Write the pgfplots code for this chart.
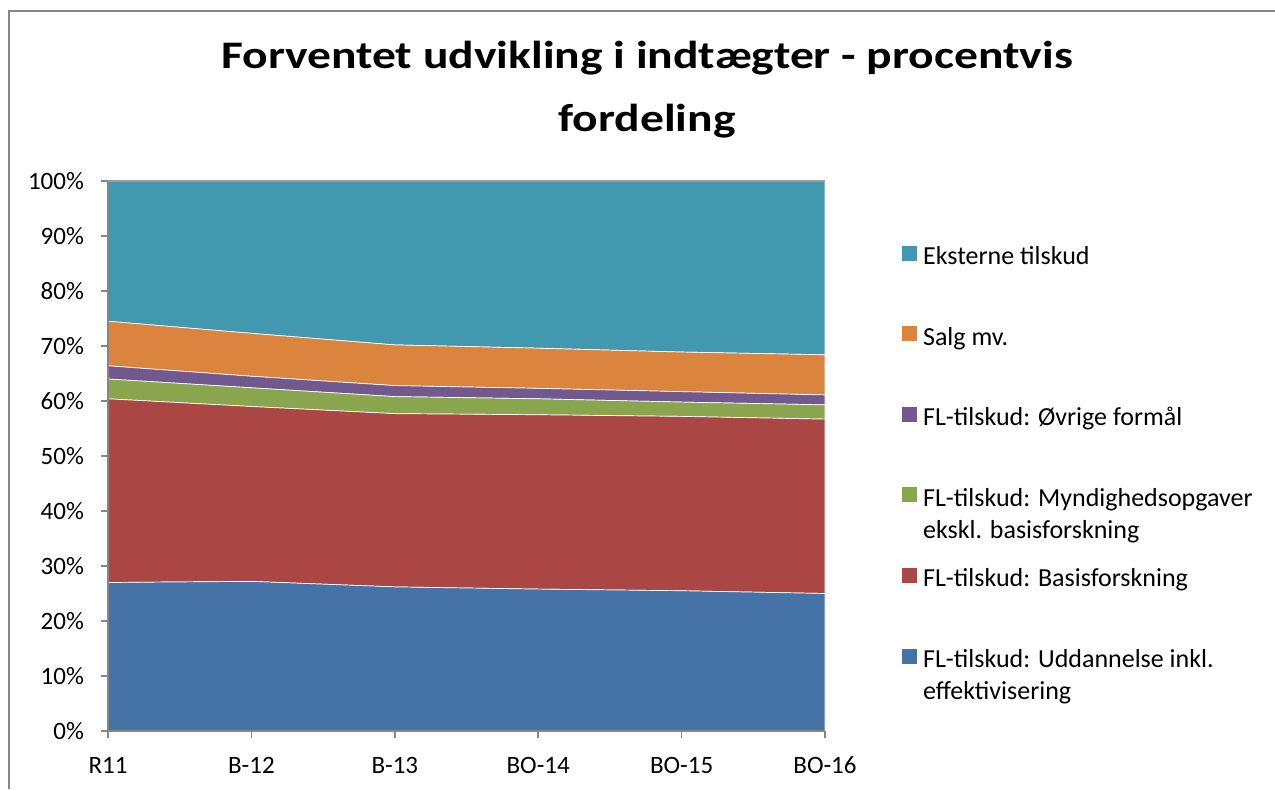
\documentclass[border=0pt]{standalone}
\usepackage{fontspec}
\setmainfont{Carlito}
\newfontfamily\titlefont{Carlito}[FakeStretch=1.22]
\usepackage{pgfplots}
\usepackage{pgfplotstable}
\pgfplotsset{compat=1.18}
\definecolor{cBlue}{HTML}{4572A7}
\definecolor{cRed}{HTML}{AA4643}
\definecolor{cGreen}{HTML}{89A54E}
\definecolor{cPurple}{HTML}{71588F}
\definecolor{cOrange}{HTML}{DB843D}
\definecolor{cTeal}{HTML}{4198AF}
\definecolor{cAxis}{HTML}{868686}
\pgfplotstableread{
x blue red green purple orange teal
0 27.0 33.4 3.6 2.4 8.1 25.5
1 27.2 31.8 3.4 2.1 7.8 27.7
2 26.2 31.5 3.1 2.0 7.4 29.8
3 25.8 31.7 2.9 1.9 7.3 30.4
4 25.5 31.7 2.6 1.9 7.2 31.1
5 25.0 31.7 2.6 1.8 7.3 31.6
}\datatable
\begin{document}
\begin{tikzpicture}
\useasboundingbox (0,0) rectangle (637.5pt,394.5pt);
\draw[line width=1pt, color=cAxis] (4.5pt,0pt) -- (4.5pt,389pt) -- (637.5pt,389pt);
\node[font=\titlefont\fontsize{19.5}{23}\selectfont\bfseries, anchor=base, inner sep=0pt] at (323.5pt,360pt) {Forventet udvikling i indtægter - procentvis};
\node[font=\titlefont\fontsize{19.5}{23}\selectfont\bfseries, anchor=base, inner sep=0pt] at (323.5pt,328.5pt) {fordeling};
\begin{axis}[
  at={(54pt,29pt)}, anchor=south west,
  scale only axis, width=358.5pt, height=275pt,
  xmin=0, xmax=5, ymin=0, ymax=100,
  stack plots=y,
  axis lines*=left,
  axis line style={draw=cAxis, line width=0.75pt},
  ytick={0,10,...,100},
  yticklabel={\pgfmathprintnumber{\tick}\%},
  xtick={0,1,2,3,4,5},
  xticklabels={R11,B-12,B-13,BO-14,BO-15,BO-16},
  tick align=outside,
  major tick length=3.5pt,
  tick style={draw=cAxis, line width=0.75pt},
  ticklabel style={font=\fontsize{12.5}{15}\selectfont},
  yticklabel style={xshift=-5pt},
  xticklabel style={text height=8pt, text depth=2pt, yshift=-6pt},
  /pgf/number format/assume math mode=true,
  extra y ticks={100}, extra y tick labels={},
  extra y tick style={grid=major, major grid style={draw=cAxis!80, line width=0.6pt}},
  axis on top,
  reverse legend,
  legend cell align=left,
  legend style={at={(1.106,0.887)}, anchor=north west, draw=none, fill=none,
    inner sep=0pt, row sep=25.3pt, column sep=2.5pt,
    font=\fontsize{13}{15}\selectfont,
    nodes={inner sep=0pt, text height=10.5pt, text depth=4.5pt}},
  legend image code/.code={\fill[#1] (0pt,-1.2pt) rectangle (8pt,6.8pt);},
]
\addplot[fill=cBlue, draw=white, line width=0.35pt] table[x=x,y=blue]{\datatable} \closedcycle;
\addlegendentry{\smash{\begin{tabular}[t]{@{}l@{}}FL-tilskud: Uddannelse inkl.\\[1pt]effektivisering\end{tabular}}}
\addplot[fill=cRed, draw=white, line width=0.35pt] table[x=x,y=red]{\datatable} \closedcycle;
\addlegendentry{FL-tilskud: Basisforskning}
\addplot[fill=cGreen, draw=white, line width=0.35pt] table[x=x,y=green]{\datatable} \closedcycle;
\addlegendentry{\smash{\begin{tabular}[t]{@{}l@{}}FL-tilskud: Myndighedsopgaver\\[1pt]ekskl. basisforskning\end{tabular}}}
\addplot[fill=cPurple, draw=white, line width=0.35pt] table[x=x,y=purple]{\datatable} \closedcycle;
\addlegendentry{FL-tilskud: Øvrige formål}
\addplot[fill=cOrange, draw=white, line width=0.35pt] table[x=x,y=orange]{\datatable} \closedcycle;
\addlegendentry{Salg mv.}
\addplot[fill=cTeal, draw=white, line width=0.35pt] table[x=x,y=teal]{\datatable} \closedcycle;
\addlegendentry{Eksterne tilskud}
\end{axis}
\end{tikzpicture}
\end{document}
